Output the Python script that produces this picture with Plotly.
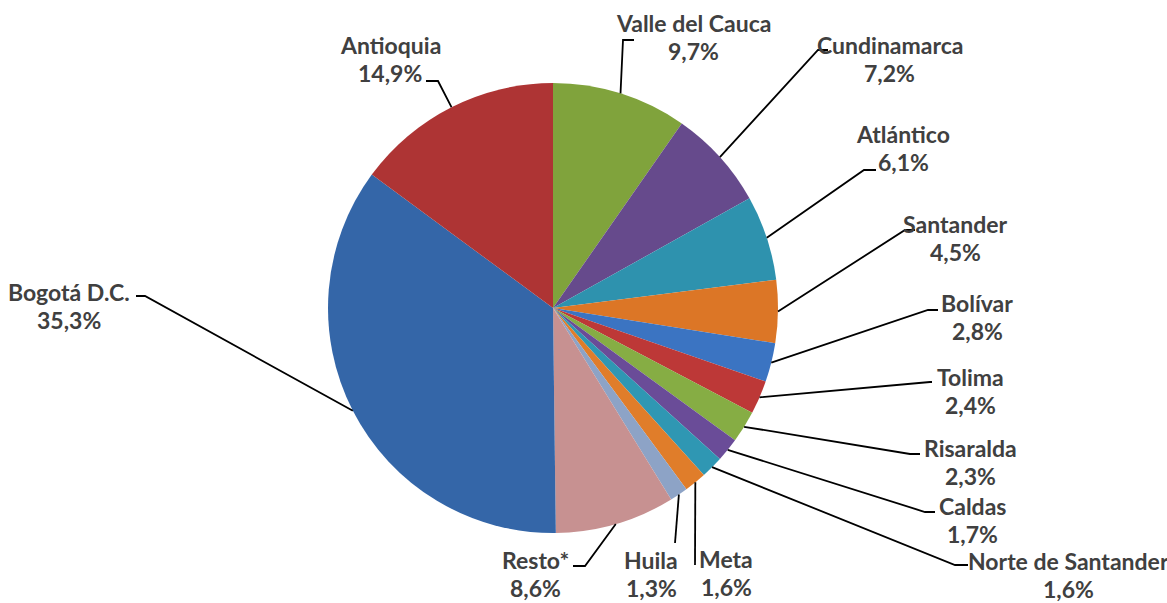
import math
import plotly.graph_objects as go

# ---- data ----
departamentos = ["Valle del Cauca", "Cundinamarca", "Atlántico", "Santander", "Bolívar",
                 "Tolima", "Risaralda", "Caldas", "Norte de Santander", "Meta", "Huila",
                 "Resto*", "Bogotá D.C.", "Antioquia"]
participacion = [9.7, 7.2, 6.1, 4.5, 2.8, 2.4, 2.3, 1.7, 1.6, 1.6, 1.3, 8.6, 35.3, 14.9]

colores = ["#80A33C", "#664A8C", "#2E92AE", "#DC7626", "#3B74C2", "#BD3837", "#86AD44",
           "#6A4C98", "#2F97B3", "#E07D2A", "#8DA3C6", "#C79191", "#3466A8", "#AE3434"]

# ---- layout (pixel positions in the 1167x603 window) ----
W, H = 1167, 603
CX, CY, R = 553, 308, 225
elbow = [(623, 40), (818, 50), (864, 170), (905, 230), (928, 310), (930, 382), (910, 454),
         (925, 512), (955, 565), (695, 565), (675, 543), (585, 566), (145, 296), (438, 81)]
stub = [(634, 40), (828, 50), (876, 170), (915, 230), (938, 310), (932, 382), (920, 454),
        (935, 512), (968, 565), (695, 565), (675, 543), (573, 566), (136, 296), (426, 81)]
label_pos = [(693, 23), (890, 45), (903, 134), (955, 224), (977, 303), (970, 377), (970, 448),
             (972, 506), (1068, 561), (726, 559), (651, 560), (535, 560), (69, 292), (390, 45)]
LINE_GAP = 28


def px(x):
    return x / W


def py(y):
    return 1 - y / H


fig = go.Figure()
fig.add_trace(go.Pie(
    labels=departamentos, values=participacion, sort=False, direction="clockwise",
    rotation=0, marker=dict(colors=colores, line=dict(width=0)),
    textinfo="none", hoverinfo="label+percent", showlegend=False,
    domain=dict(x=[px(CX - R), px(CX + R)], y=[py(CY + R), py(CY - R)]),
))

shapes = []
annotations = []
total = sum(participacion)
cum = 0.0
font = dict(family="Lato", size=23, color="#404040", weight="bold")
for i, (name, v) in enumerate(zip(departamentos, participacion)):
    mid = (cum + v / 2) / total * 2 * math.pi
    cum += v
    sx = CX + R * math.sin(mid)
    sy = CY - R * math.cos(mid)
    ex, ey = elbow[i]
    tx, ty = stub[i]
    shapes.append(dict(type="path", xref="paper", yref="paper",
                       path=f"M {px(sx)},{py(sy)} L {px(ex)},{py(ey)} L {px(tx)},{py(ty)}",
                       line=dict(color="#000000", width=1.8)))
    lx, ly = label_pos[i]
    pct = f"{v:.1f}".replace(".", ",") + "%"
    annotations.append(dict(x=px(lx), y=py(ly), xref="paper", yref="paper", text=name,
                            showarrow=False, font=font, xanchor="center", yanchor="middle",
                            borderpad=0))
    annotations.append(dict(x=px(lx), y=py(ly + LINE_GAP), xref="paper", yref="paper", text=pct,
                            showarrow=False, font=font, xanchor="center", yanchor="middle",
                            borderpad=0))

fig.update_layout(width=W, height=H, margin=dict(l=0, r=0, t=0, b=0),
                  paper_bgcolor="white", plot_bgcolor="white",
                  shapes=shapes, annotations=annotations)
fig.write_html("out.html", config={"displayModeBar": False},
               post_script="document.body.style.margin='0';document.body.style.overflow='hidden';")
